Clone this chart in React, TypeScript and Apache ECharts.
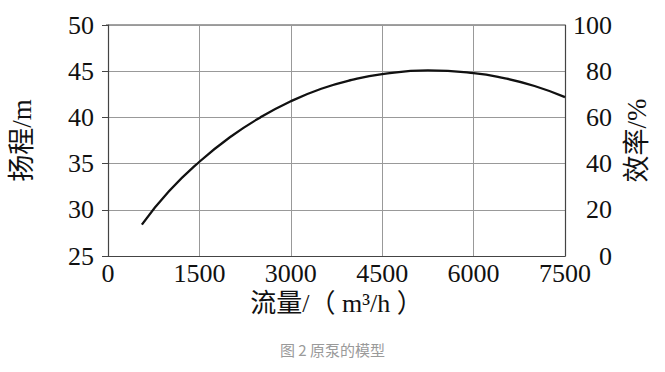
import React, { useEffect, useRef } from "react";
import * as echarts from "echarts";

const flow = [556, 1000, 1500, 2000, 2500, 3000, 3500, 4000, 4500, 5250, 6000, 6500, 7000, 7500];
const head = [28.4, 32.0, 35.2, 37.85, 40.0, 41.75, 43.1, 44.05, 44.68, 45.08, 44.8, 44.25, 43.4, 42.2];
const xTicks = [0, 1500, 3000, 4500, 6000, 7500];
const leftTicks = [25, 30, 35, 40, 45, 50];
const rightTicks = [0, 20, 40, 60, 80, 100];
const caption = "图 2 原泵的模型";

const serif = '"Liberation Serif", "Noto Sans CJK SC", serif';

export default function App() {
  const ref = useRef<HTMLDivElement>(null);
  useEffect(() => {
    document.body.style.margin = "0";
    const chart = echarts.init(ref.current!, null, { renderer: "svg" });
    chart.setOption({
      animation: false,
      backgroundColor: "#fff",
      grid: { left: 106, right: 100, top: 25, bottom: 116 },
      xAxis: {
        type: "value",
        min: xTicks[0],
        max: xTicks[xTicks.length - 1],
        interval: 1500,
        name: "流量/（ m³/h ）",
        nameLocation: "middle",
        nameGap: 32,
        nameTextStyle: { fontFamily: serif, fontSize: 26, color: "#111" },
        axisLine: { lineStyle: { color: "#444", width: 1.2 } },
        axisTick: { show: false },
        axisLabel: {
          fontFamily: serif,
          fontSize: 26,
          color: "#111",
          margin: 4,
          formatter: (v: number) => String(v),
        },
        splitLine: { show: true, lineStyle: { color: "#999", width: 1 } },
      },
      yAxis: [
        {
          type: "value",
          min: leftTicks[0],
          max: leftTicks[leftTicks.length - 1],
          interval: 5,
          position: "left",
          name: "扬程/m",
          nameLocation: "middle",
          nameGap: 73,
          nameTextStyle: { fontFamily: serif, fontSize: 27, color: "#111" },
          axisLine: { show: true, lineStyle: { color: "#444", width: 1.2 } },
          axisTick: { show: true, length: 6, inside: false, lineStyle: { color: "#444" } },
          axisLabel: { fontFamily: serif, fontSize: 26, color: "#111", margin: 14 },
          splitLine: { show: true, lineStyle: { color: "#999", width: 1 } },
        },
        {
          type: "value",
          min: rightTicks[0],
          max: rightTicks[rightTicks.length - 1],
          interval: 20,
          position: "right",
          name: "效率/%",
          nameLocation: "middle",
          nameGap: 58,
          nameRotate: 90,
          nameTextStyle: { fontFamily: serif, fontSize: 27, color: "#111" },
          axisLine: { show: true, lineStyle: { color: "#444", width: 1.2 } },
          axisTick: { show: false },
          axisLabel: { fontFamily: serif, fontSize: 26, color: "#111", margin: 47, align: "right" },
          splitLine: { show: false },
        },
      ],
      graphic: [
        {
          type: "line",
          shape: { x1: 106, y1: 25, x2: 565, y2: 25 },
          style: { stroke: "#444", lineWidth: 1.2 },
        },
        {
          type: "text",
          left: "center",
          top: 342,
          style: {
            text: caption,
            fontFamily: '"Noto Sans CJK SC", sans-serif',
            fontSize: 15,
            fill: "#9a9a9a",
          },
        },
      ],
      series: [
        {
          type: "line",
          yAxisIndex: 0,
          data: flow.map((f, i) => [f, head[i]]),
          smooth: true,
          showSymbol: false,
          lineStyle: { color: "#111", width: 2.3 },
        },
      ],
    });
    return () => chart.dispose();
  }, []);
  return <div ref={ref} style={{ width: 665, height: 372 }} />;
}
